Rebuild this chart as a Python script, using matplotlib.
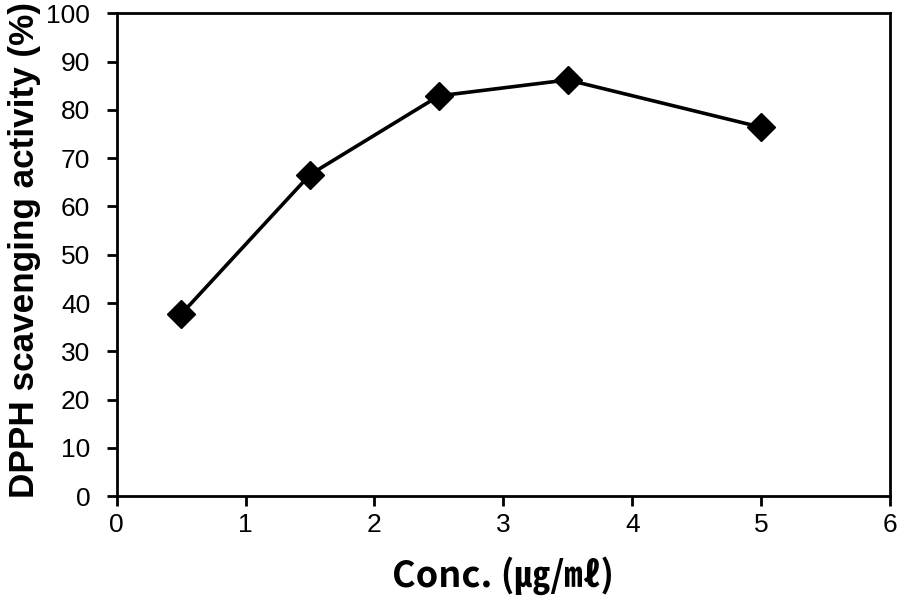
import matplotlib.pyplot as plt

conc = [0.5, 1.5, 2.5, 3.5, 5]
activity = [37.7, 66.6, 82.9, 86.2, 76.4]

fig = plt.figure(figsize=(8.98, 6.03), dpi=100)
ax = fig.add_axes([0.130, 0.177, 0.861, 0.801])

ax.plot(conc, activity, color='black', lw=2.6, marker='D', ms=14,
        markerfacecolor='black', markeredgecolor='black')

ax.set_xlim(0, 6)
ax.set_ylim(0, 100)
ax.set_xticks(range(0, 7))
ax.set_yticks(range(0, 101, 10))

for s in ax.spines.values():
    s.set_linewidth(2)
ax.tick_params(direction='out', length=7, width=2, labelsize=19)
ax.tick_params(axis='x', pad=5)
ax.tick_params(axis='y', pad=12)
for lab in ax.get_xticklabels() + ax.get_yticklabels():
    lab.set_family('Liberation Sans')

ax.set_ylabel('DPPH scavenging activity (%)', fontsize=25.3, fontweight='bold',
              family='Liberation Sans')
ax.yaxis.set_label_coords(-0.098, 0.51)
ax.set_xlabel('Conc. (㎍/㎖)', fontsize=26, fontweight='bold',
              family=['Noto Sans CJK KR', 'DejaVu Sans'], labelpad=14)

fig.savefig('out.png', dpi=100)
